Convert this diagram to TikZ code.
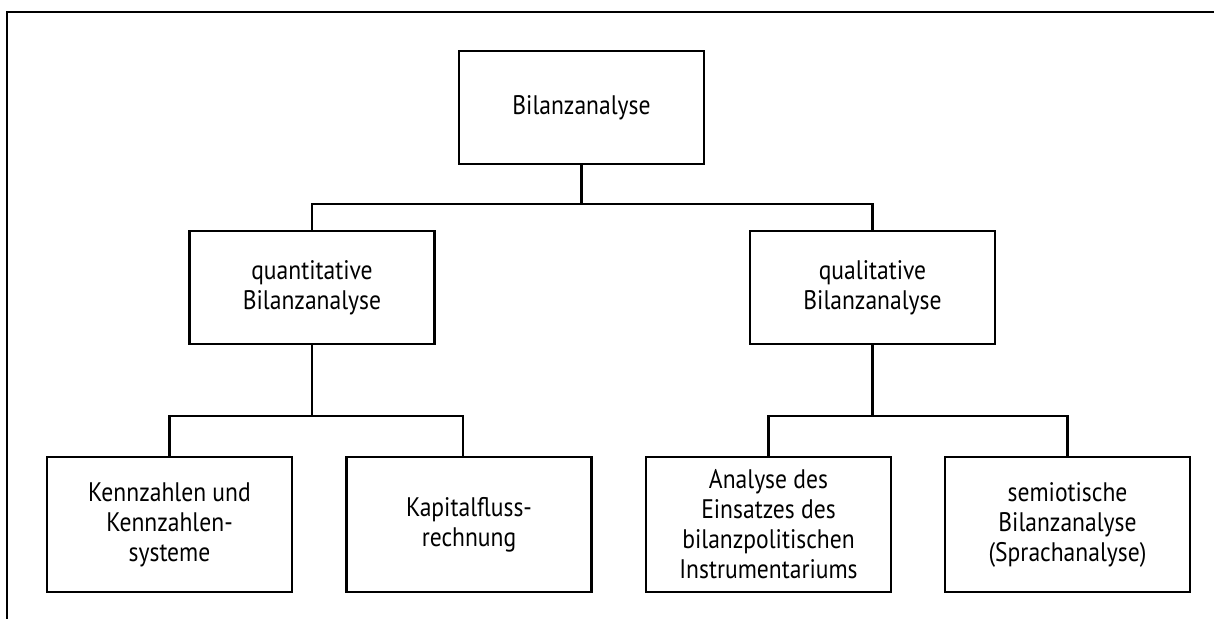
\documentclass[tikz,border=0pt]{standalone}
\usepackage{fontspec}
\setmainfont[FakeStretch=0.88]{PT Sans}
\usetikzlibrary{positioning,calc}
\tikzset{
  treeline/.style={line width=1.2pt, draw=black},
  boxnode/.style={draw, line width=1.2pt, align=center, inner sep=2pt, minimum width=122.5pt, minimum height=56.5pt},
}

\begin{document}
\begin{tikzpicture}[
  x=0.5pt, y=-0.5pt,
  font=\fontsize{13.4pt}{15pt}\selectfont,
  leaf/.style={boxnode, minimum height=67.5pt},
]
  \useasboundingbox (0,0) rectangle (1214,619);
  % frame
  \draw[line width=0.8pt] (7,619) -- (7,12) -- (1214,12);

  \node[boxnode] (top) at (581.5,107.5) {Bilanzanalyse};
  \node[boxnode] (quant) at (312,287.5) {quantitative\\Bilanzanalyse};
  \node[boxnode] (qual) at (872.5,287.5) {qualitative\\Bilanzanalyse};

  \node[leaf] (kz) at (169.5,524.5) {Kennzahlen und\\Kennzahlen-\\systeme};
  \node[leaf] (kf) at (469,524.5) {Kapitalfluss-\\rechnung};
  \node[leaf] (ae) at (768.5,524.5) {Analyse des\\Einsatzes des\\bilanzpolitischen\\Instrumentariums};
  \node[leaf] (sb) at (1067.5,524.5) {semiotische\\Bilanzanalyse\\(Sprachanalyse)};

  % tree lines
  \draw[treeline] (top.south) -- ++(0,39);
  \draw[treeline] (quant.north) |- ($(top.south)+(0,39)$) -| (qual.north);
  \draw[treeline] (quant.south) -- ++(0,71);
  \draw[treeline] (kz.north) |- ($(quant.south)+(0,71)$) -| ($(kf.north)+(-6,0)$);
  \draw[treeline] (qual.south) -- ++(0,71);
  \draw[treeline] (ae.north) |- ($(qual.south)+(0,71)$) -| (sb.north);
\end{tikzpicture}
\end{document}
